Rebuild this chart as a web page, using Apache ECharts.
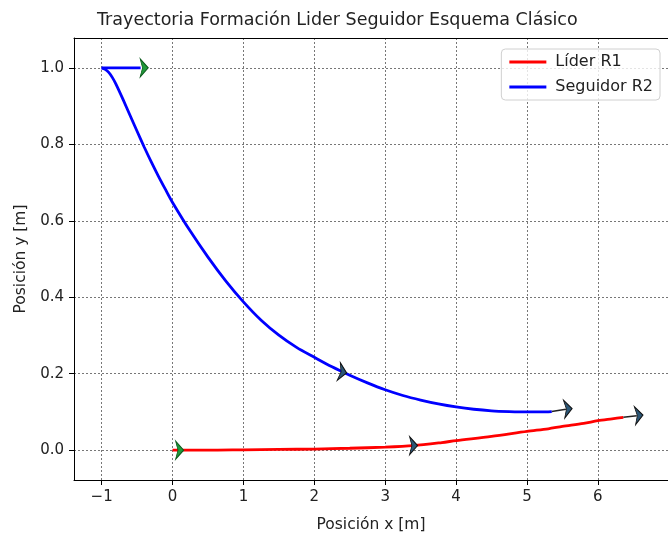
<!DOCTYPE html>
<html>
<head>
<meta charset="utf-8">
<script src="https://cdn.jsdelivr.net/npm/echarts@6/dist/echarts.min.js"></script>
<style>
  html, body { margin: 0; padding: 0; background: #fff; }
  #chart { width: 668px; height: 534px; }
</style>
</head>
<body>
<div id="chart"></div>
<script>
// Leader robot trajectory (x, y) in metres
const liderPath = [
  [0.0, 0.0], [0.5, 0.0], [1.0, 0.001], [1.5, 0.002], [2.0, 0.003], [2.5, 0.005],
  [3.0, 0.008], [3.4, 0.012], [3.8, 0.02], [4.0, 0.025], [4.5, 0.036], [5.0, 0.049],
  [5.3, 0.056], [5.5, 0.062], [5.8, 0.07], [6.0, 0.077], [6.2, 0.082], [6.36, 0.086]
];
// Follower robot trajectory (x, y) in metres
const seguidorPath = [
  [-1.0, 1.0], [-0.95, 0.996], [-0.9, 0.988], [-0.85, 0.975], [-0.8, 0.958], [-0.7, 0.918],
  [-0.6, 0.876], [-0.5, 0.834], [-0.4, 0.793], [-0.3, 0.754], [-0.2, 0.717], [-0.1, 0.682],
  [0.0, 0.648], [0.25, 0.573], [0.5, 0.505], [0.75, 0.443], [1.0, 0.388], [1.25, 0.34],
  [1.5, 0.301], [1.75, 0.269], [2.0, 0.243], [2.25, 0.218], [2.5, 0.196], [2.75, 0.176],
  [3.0, 0.158], [3.25, 0.143], [3.5, 0.131], [3.75, 0.121], [4.0, 0.113], [4.25, 0.107],
  [4.5, 0.103], [4.75, 0.101], [5.0, 0.1], [5.2, 0.1], [5.35, 0.101]
];
// Initial heading segment of the follower
const seguidorInicio = [[-1.0, 1.0], [-0.45, 1.0]];
// Final heading shafts
const seguidorFinal = [[5.35, 0.101], [5.55, 0.107]];
const liderFinal = [[6.36, 0.086], [6.55, 0.09]];

// Orientation arrows: [x, y, angle in degrees]
const flechasInicio = [[-0.4, 1.0, 0], [0.1, 0.0, 0]];
const flechasRuta = [[2.4, 0.204, -10], [3.4, 0.012, 0], [5.58, 0.108, 4], [6.58, 0.091, 4]];

const xTicks = [-1, 0, 1, 2, 3, 4, 5, 6];
const yTicks = [0.0, 0.2, 0.4, 0.6, 0.8, 1.0];

const FONT = 'DejaVu Sans';
const ARROW = 'path://M0,0 L10,10 L0,20 L3,10 Z';

const chart = echarts.init(document.getElementById('chart'), null, { renderer: 'canvas' });

function arrowSeries(data, fill, edge) {
  return {
    type: 'scatter',
    data: data.map(d => ({ value: [d[0], d[1]], symbolRotate: d[2] })),
    symbol: ARROW,
    symbolSize: [8, 18],
    itemStyle: { color: fill, borderColor: edge, borderWidth: 1, opacity: 1 },
    z: 10,
    silent: true
  };
}

const gridLine = { show: true, lineStyle: { color: '#555', type: [2, 2], width: 0.8 } };

chart.setOption({
  animation: false,
  backgroundColor: '#fff',
  title: {
    text: 'Trayectoria Formación Lider Seguidor Esquema Clásico',
    left: 92, top: 6,
    textStyle: { fontFamily: FONT, fontSize: 17.5, fontWeight: 'normal', color: '#222' }
  },
  legend: {
    orient: 'vertical',
    right: 8, top: 49,
    data: ['Líder R1', 'Seguidor R2'],
    icon: 'rect',
    itemWidth: 37, itemHeight: 3,
    itemGap: 9,
    padding: [5, 7, 5, 8],
    borderColor: '#d0d0d0', borderWidth: 1, borderRadius: 4,
    backgroundColor: 'rgba(255,255,255,0.8)',
    textStyle: { fontFamily: FONT, fontSize: 16, color: '#222', padding: [0, 0, 0, 4] }
  },
  grid: { left: 74, right: 0, top: 38, bottom: 54, containLabel: false, outerBoundsMode: 'none' },
  xAxis: [{
    type: 'value', min: -1.39, max: 6.99,
    name: 'Posición x [m]', nameLocation: 'middle', nameGap: 37,
    nameTextStyle: { fontFamily: FONT, fontSize: 15.5, color: '#222' },
    axisLine: { show: true, onZero: false, lineStyle: { color: '#000', width: 1 } },
    axisTick: { show: true, length: 5, customValues: xTicks, lineStyle: { color: '#000' } },
    axisLabel: { customValues: xTicks, fontFamily: FONT, fontSize: 15, color: '#222', margin: 10,
                 formatter: v => String(v).replace('-', '\u2212') },
    splitLine: gridLine
  }, {
    type: 'value', position: 'top', min: -1.39, max: 6.99,
    axisLine: { show: true, onZero: false, lineStyle: { color: '#000', width: 1 } },
    axisTick: { show: false }, axisLabel: { show: false }, splitLine: { show: false }
  }],
  yAxis: {
    type: 'value', min: -0.078, max: 1.078,
    name: 'Posición y [m]', nameLocation: 'middle', nameGap: 44,
    nameTextStyle: { fontFamily: FONT, fontSize: 15.5, color: '#222' },
    axisLine: { show: true, onZero: false, lineStyle: { color: '#000', width: 1 } },
    axisTick: { show: true, length: 5, customValues: yTicks, lineStyle: { color: '#000' } },
    axisLabel: { customValues: yTicks, fontFamily: FONT, fontSize: 15, color: '#222', margin: 10,
                 formatter: v => v.toFixed(1) },
    splitLine: gridLine
  },
  series: [
    { name: 'Líder R1', type: 'line', data: liderPath, showSymbol: false, symbol: 'none',
      smooth: 0.3,
      lineStyle: { color: '#ff0000', width: 2.8 }, itemStyle: { color: '#ff0000' }, z: 3 },
    { name: 'Seguidor R2', type: 'line', data: seguidorPath, showSymbol: false, symbol: 'none',
      smooth: 0.3,
      lineStyle: { color: '#0000ff', width: 2.8 }, itemStyle: { color: '#0000ff' }, z: 3 },
    { type: 'line', data: seguidorInicio, symbol: 'none', lineStyle: { color: '#0000ff', width: 2.8 }, z: 3, silent: true },
    { type: 'line', data: seguidorFinal, symbol: 'none', lineStyle: { color: '#222', width: 1.6 }, z: 4, silent: true },
    { type: 'line', data: liderFinal, symbol: 'none', lineStyle: { color: '#222', width: 1.6 }, z: 4, silent: true },
    arrowSeries(flechasInicio, '#1f9a3a', '#0c5a1c'),
    arrowSeries(flechasRuta, '#2b5676', '#111')
  ]
});
</script>
</body>
</html>
